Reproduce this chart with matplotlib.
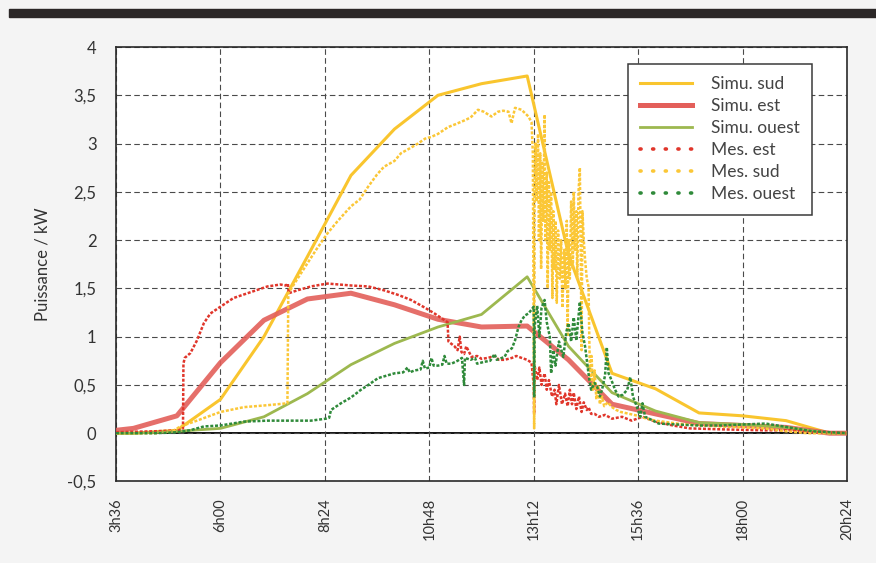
"""
plot.py

Puissance simulee vs mesuree (sud / est / ouest) sur une journee.
Sortie : out.png (876 x 563 px)
"""

import matplotlib
matplotlib.use("Agg")
import matplotlib.pyplot as plt
from matplotlib.lines import Line2D
from matplotlib.patches import Rectangle

# -----------------------------
# Data (heures decimales / kW)
# -----------------------------
simu_hours = [3.6, 4.0, 5.0, 6.0, 7.0, 8.0, 9.0, 10.0, 11.0, 12.0, 13.05,
              14.0, 15.0, 16.0, 17.0, 18.0, 19.0, 20.0, 20.4]
simu_sud = [0.0, 0.0, 0.03, 0.35, 1.0, 1.83, 2.67, 3.15, 3.5, 3.62, 3.7,
            1.85, 0.62, 0.46, 0.21, 0.18, 0.13, 0.0, 0.0]
simu_est = [0.03, 0.05, 0.18, 0.73, 1.17, 1.39, 1.45, 1.33, 1.18, 1.1, 1.11,
            0.76, 0.3, 0.2, 0.1, 0.08, 0.06, 0.0, 0.0]
simu_ouest = [0.0, 0.0, 0.02, 0.05, 0.17, 0.41, 0.71, 0.93, 1.1, 1.23, 1.62,
              0.9, 0.42, 0.23, 0.11, 0.09, 0.06, 0.0, 0.0]

mes_est_t = [3.6, 4.5, 5.0, 5.14, 5.15, 5.18, 5.31, 5.46, 5.62, 5.77, 6.0, 6.3,
             6.69, 7.08, 7.38, 7.5, 7.55, 7.57, 7.77, 8.08, 8.46, 9.0, 9.4,
             9.76, 10.1, 10.38, 10.7, 10.92, 11.15, 11.22, 11.24, 11.38, 11.45,
             11.5, 11.54, 11.6, 11.65, 11.77, 11.9, 12.0, 12.15, 12.3, 12.4,
             12.53, 12.7, 12.8, 12.92, 13.05, 13.15, 13.2, 13.21, 13.22, 13.28,
             13.33, 13.38, 13.45, 13.5, 13.55, 13.62, 13.68, 13.72, 13.78,
             13.85, 13.92, 13.98, 14.03, 14.08, 14.12, 14.18, 14.24, 14.3,
             14.35, 14.42, 14.46, 14.52, 14.6, 14.7, 14.84, 15.0, 15.23, 15.45,
             15.7, 16.0, 16.4, 16.78, 17.5, 18.5, 19.1, 19.6, 20.4]
mes_est = [0.01, 0.02, 0.03, 0.05, 0.72, 0.78, 0.83, 0.96, 1.14, 1.24, 1.31, 1.4,
           1.46, 1.52, 1.54, 1.53, 1.55, 1.45, 1.48, 1.52, 1.55, 1.53, 1.52,
           1.48, 1.43, 1.38, 1.3, 1.24, 1.17, 1.15, 0.95, 0.9, 0.86,
           1.0, 0.84, 0.82, 0.9, 0.79, 0.8, 0.77, 0.78, 0.8, 0.76,
           0.76, 0.78, 0.8, 0.78, 0.76, 0.73, 0.5, 0.2, 0.7, 0.55,
           0.68, 0.5, 0.62, 0.45, 0.55, 0.38, 0.45, 0.3, 0.5,
           0.3, 0.41, 0.28, 0.45, 0.3, 0.42, 0.25, 0.38, 0.22,
           0.32, 0.24, 0.27, 0.2, 0.2, 0.17, 0.19, 0.15, 0.17, 0.13,
           0.17, 0.12, 0.08, 0.05, 0.04, 0.03, 0.03, 0.01, 0.0]

mes_sud_t = [3.6, 4.0, 4.5, 4.9, 5.08, 5.46, 6.0, 6.54, 7.08, 7.54, 7.56, 7.8,
             8.0, 8.2, 8.46, 8.7, 9.0, 9.2, 9.39, 9.6, 9.76, 10.0, 10.15, 10.35,
             10.54, 10.7, 10.85, 11.0, 11.23, 11.4, 11.61, 11.75, 11.92, 12.05,
             12.23, 12.38, 12.5, 12.62, 12.69, 12.77, 12.92, 13.08, 13.15,
             13.18, 13.2, 13.21, 13.22, 13.24, 13.27, 13.3, 13.32, 13.35, 13.37,
             13.4, 13.42, 13.45, 13.47, 13.5, 13.52, 13.55, 13.57, 13.6, 13.63,
             13.65, 13.68, 13.7, 13.73, 13.76, 13.8, 13.83, 13.86, 13.9, 13.93,
             13.96, 13.98, 14.0, 14.03, 14.06, 14.1, 14.12, 14.15, 14.18, 14.2,
             14.23, 14.26, 14.28, 14.3, 14.32, 14.35, 14.38, 14.42, 14.46,
             14.48, 14.5, 14.53, 14.56, 14.6, 14.64, 14.68, 14.72, 14.77,
             14.82, 14.9, 15.0, 15.1, 15.2, 15.4, 15.6, 15.8, 16.0, 16.5, 17.0,
             17.5, 18.0, 18.5, 19.0, 19.5, 20.4]
mes_sud = [0.0, 0.0, 0.0, 0.02, 0.07, 0.13, 0.22, 0.27, 0.29, 0.31, 1.45, 1.62,
           1.76, 1.9, 2.07, 2.2, 2.35, 2.42, 2.55, 2.68, 2.76, 2.82, 2.9, 2.95,
           3.0, 3.05, 3.07, 3.1, 3.17, 3.2, 3.24, 3.27, 3.35, 3.33,
           3.28, 3.33, 3.34, 3.33, 3.21, 3.37, 3.35, 3.28, 3.22,
           2.9, 1.0, 0.05, 2.4, 3.0, 2.4, 3.1, 2.0, 2.9, 1.7,
           2.8, 2.2, 3.3, 2.0, 2.7, 1.5, 2.6, 1.9, 2.5, 1.4,
           2.3, 1.7, 2.2, 1.35, 2.1, 1.6, 2.0, 1.3, 1.9, 1.5,
           2.2, 1.0, 2.0, 1.6, 2.4, 1.7, 2.5, 1.9, 2.3, 1.6,
           2.5, 2.75, 1.9, 0.86, 2.3, 2.0, 1.8, 1.6, 1.52,
           0.9, 0.55, 0.8, 0.45, 0.65, 0.35, 0.5, 0.3, 0.38,
           0.28, 0.32, 0.27, 0.24, 0.22, 0.2, 0.18, 0.15, 0.13, 0.1, 0.08,
           0.07, 0.06, 0.05, 0.02, 0.0, 0.0]

mes_ouest_t = [3.6, 4.5, 5.0, 5.3, 5.62, 6.0, 6.54, 7.08, 7.54, 8.08, 8.42, 8.5,
               8.54, 8.77, 9.0, 9.23, 9.4, 9.62, 10.0, 10.2, 10.3, 10.35, 10.46,
               10.6, 10.65, 10.7, 10.8, 10.85, 10.9, 11.0, 11.1, 11.15, 11.2,
               11.31, 11.45, 11.55, 11.6, 11.62, 11.75, 11.85, 11.9, 12.07, 12.2,
               12.3, 12.35, 12.53, 12.6, 12.7, 12.77, 12.85, 12.92, 13.0, 13.08,
               13.15, 13.2, 13.21, 13.22, 13.28, 13.33, 13.38, 13.45, 13.5,
               13.57, 13.6, 13.65, 13.7, 13.78, 13.88, 13.95, 14.0, 14.06, 14.12,
               14.18, 14.26, 14.32, 14.38, 14.42, 14.47, 14.52, 14.6, 14.66,
               14.72, 14.77, 14.84, 14.88, 14.92, 14.96, 15.07, 15.15, 15.25,
               15.35, 15.42, 15.48, 15.55, 15.65, 15.7, 15.76, 15.9, 16.07, 16.5,
               17.0, 17.5, 18.0, 18.53, 18.8, 19.2, 19.6, 20.0, 20.4]
mes_ouest = [0.0, 0.0, 0.01, 0.03, 0.07, 0.08, 0.12, 0.13, 0.13, 0.13, 0.15, 0.16,
             0.24, 0.31, 0.37, 0.45, 0.5, 0.57, 0.62, 0.63, 0.68, 0.63, 0.65,
             0.66, 0.75, 0.67, 0.68, 0.78, 0.7, 0.7, 0.71, 0.8, 0.72,
             0.72, 0.75, 0.78, 0.5, 0.78, 0.76, 0.78, 0.72, 0.74, 0.75,
             0.82, 0.76, 0.79, 0.85, 0.88, 0.96, 1.1, 1.17, 1.22, 1.24,
             1.28, 1.31, 0.37, 1.1, 1.32, 1.0, 1.3, 1.38, 1.15,
             1.0, 0.62, 0.86, 0.7, 0.95, 0.79, 1.05, 1.14, 0.95, 1.2,
             0.96, 1.36, 1.04, 0.9, 0.76, 0.58, 0.45, 0.52, 0.48,
             0.38, 0.45, 0.6, 0.89, 0.62, 0.58, 0.45, 0.38, 0.4,
             0.45, 0.58, 0.38, 0.3, 0.17, 0.31, 0.17, 0.14, 0.1, 0.09,
             0.08, 0.08, 0.09, 0.1, 0.08, 0.05, 0.02, 0.01, 0.0]

x_ticks = [3.6, 6.0, 8.4, 10.8, 13.2, 15.6, 18.0, 20.4]
x_labels = ["3h36", "6h00", "8h24", "10h48", "13h12", "15h36", "18h00", "20h24"]
y_ticks = [-0.5, 0, 0.5, 1, 1.5, 2, 2.5, 3, 3.5, 4]
y_labels = ["-0,5", "0", "0,5", "1", "1,5", "2", "2,5", "3", "3,5", "4"]

# -----------------------------
# Styles
# -----------------------------
C_SUD = "#f9c52e"
C_EST = "#e35f5a"
C_OUEST = "#9db84f"
C_MES_EST = "#e0362b"
C_MES_SUD = "#fbc737"
C_MES_OUEST = "#2f8a3a"
TXT = "#333333"

plt.rcParams["font.family"] = ["Lato", "DejaVu Sans"]

fig = plt.figure(figsize=(8.76, 5.63), dpi=100, facecolor="#f4f4f4")

# dark strip along the top edge of the scanned page
fig.patches.append(Rectangle((0.01, 1 - 17 / 563), 0.99, 8 / 563,
                             transform=fig.transFigure, color="#2b2727", zorder=0))

ax = fig.add_axes([0.1324, 0.1448, 0.8345, 0.7717])
ax.set_facecolor("white")

# grid + zero line
ax.grid(True, linestyle=(0, (5, 3)), color="#4a4a4a", linewidth=0.8, zorder=0)
ax.axhline(0, color="#111111", linewidth=1.4, zorder=1)

# simulations (solid)
ax.plot(simu_hours, simu_sud, color=C_SUD, lw=2.2, zorder=3)
ax.plot(simu_hours, simu_est, color=C_EST, lw=3.6, alpha=0.9, zorder=3)
ax.plot(simu_hours, simu_ouest, color=C_OUEST, lw=2.0, zorder=3)

# mesures (dotted, dense)
dots = (0, (1.2, 0.7))
ax.plot(mes_est_t, mes_est, color=C_MES_EST, lw=1.8, ls=dots, zorder=4)
ax.plot(mes_sud_t, mes_sud, color=C_MES_SUD, lw=1.8, ls=dots, zorder=4)
ax.plot(mes_ouest_t, mes_ouest, color=C_MES_OUEST, lw=1.8, ls=dots, zorder=4)

# axes
ax.set_xlim(3.6, 20.4)
ax.set_ylim(-0.5, 4)
ax.set_xticks(x_ticks)
ax.set_xticklabels(x_labels, rotation=90, fontsize=10.5, color=TXT)
ax.set_yticks(y_ticks)
ax.set_yticklabels(y_labels, fontsize=12, color=TXT)
ax.tick_params(axis="both", length=0)
ax.tick_params(axis="x", pad=12)
ax.tick_params(axis="y", pad=14)
for s in ax.spines.values():
    s.set_color("#2a2a2a")
    s.set_linewidth(1.2)

ax.set_ylabel("Puissance / kW", fontsize=12, color=TXT, labelpad=12)

# legend
leg_dots = (0, (0.3, 3.2))
handles = [
    Line2D([], [], color=C_SUD, lw=2.2),
    Line2D([], [], color=C_EST, lw=3.6),
    Line2D([], [], color=C_OUEST, lw=2.0),
    Line2D([], [], color=C_MES_EST, lw=2.6, ls=leg_dots, dash_capstyle="round"),
    Line2D([], [], color=C_MES_SUD, lw=2.6, ls=leg_dots, dash_capstyle="round"),
    Line2D([], [], color=C_MES_OUEST, lw=2.6, ls=leg_dots, dash_capstyle="round"),
]
labels = ["Simu. sud", "Simu. est", "Simu. ouest", "Mes. est", "Mes. sud", "Mes. ouest"]
leg = ax.legend(handles, labels, loc="upper left", bbox_to_anchor=(0.700, 0.961),
                fontsize=12.5, frameon=True, fancybox=False, borderpad=0.7,
                handlelength=3.0, handletextpad=1.1, labelspacing=0.35,
                borderaxespad=0)
leg.get_frame().set_edgecolor("#3a3a3a")
leg.get_frame().set_linewidth(1.1)
leg.get_frame().set_alpha(1)
for t in leg.get_texts():
    t.set_color("#444444")

fig.savefig("out.png", dpi=100, facecolor=fig.get_facecolor())
